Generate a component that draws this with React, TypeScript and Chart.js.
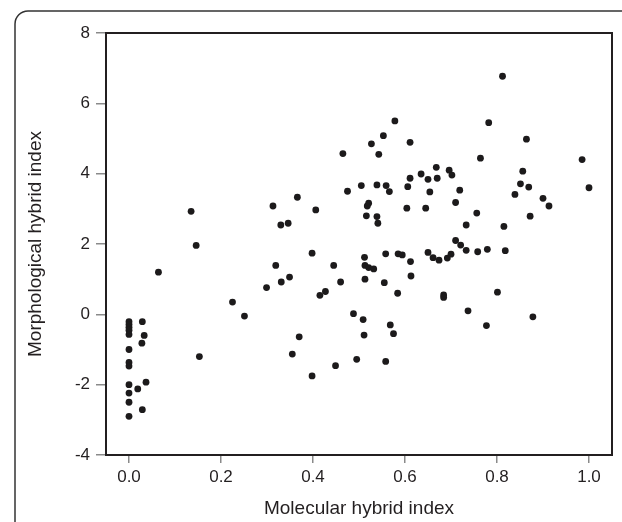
import React, { useEffect, useRef } from "react";
import { Chart, registerables } from "chart.js";

Chart.register(...registerables);

const molecularIndex: number[] = [
  0, 0, 0, 0, 0, 0, 0, 0, 0, 0, 0, 0,
  0.029, 0.033, 0.028, 0.037, 0.019, 0.029, 0.064, 0.135, 0.146, 0.153,
  0.225, 0.251, 0.299, 0.313, 0.319, 0.33, 0.331, 0.346, 0.349, 0.366,
  0.355, 0.37, 0.398, 0.406, 0.398, 0.415, 0.427, 0.445, 0.449, 0.46,
  0.465, 0.475, 0.488, 0.495, 0.505, 0.509, 0.511, 0.512, 0.513, 0.513,
  0.516, 0.518, 0.521, 0.521, 0.527, 0.532, 0.539, 0.539, 0.541, 0.543,
  0.553, 0.555, 0.558, 0.558, 0.559, 0.566, 0.568, 0.575, 0.578, 0.584,
  0.585, 0.594, 0.604, 0.606, 0.611, 0.611, 0.612, 0.613, 0.635, 0.645,
  0.65, 0.65, 0.654, 0.661, 0.668, 0.67, 0.674, 0.684, 0.684, 0.692,
  0.696, 0.7, 0.702, 0.71, 0.71, 0.719, 0.721, 0.733, 0.733, 0.737,
  0.756, 0.758, 0.764, 0.777, 0.779, 0.782, 0.801, 0.812, 0.815, 0.818,
  0.839, 0.851, 0.856, 0.864, 0.869, 0.872, 0.878, 0.9, 0.913, 0.985, 1.0,
];

const morphologicalIndex: number[] = [
  -0.21, -0.29, -0.37, -0.45, -0.57, -1.0, -1.37, -1.47, -2.0, -2.24, -2.5, -2.9,
  -0.21, -0.6, -0.82, -1.93, -2.12, -2.71, 1.2, 2.93, 1.96, -1.2,
  0.35, -0.05, 0.76, 3.08, 1.39, 2.54, 0.92, 2.59, 1.06, 3.33,
  -1.13, -0.64, 1.74, 2.97, -1.75, 0.54, 0.65, 1.39, -1.46, 0.92,
  4.57, 3.5, 0.02, -1.28, 3.66, -0.15, -0.59, 1.62, 1.39, 1.0,
  2.8, 3.08, 3.16, 1.33, 4.85, 1.29, 3.68, 2.78, 2.59, 4.55,
  5.08, 0.9, 1.72, -1.34, 3.66, 3.49, -0.3, -0.55, 5.5, 0.6,
  1.72, 1.69, 3.02, 3.63, 4.89, 3.87, 1.5, 1.09, 3.99, 3.02,
  3.84, 1.76, 3.48, 1.61, 4.18, 3.87, 1.54, 0.55, 0.48, 1.6,
  4.1, 1.71, 3.96, 3.18, 2.1, 3.53, 1.97, 2.54, 1.82, 0.1,
  2.88, 1.78, 4.44, -0.32, 1.85, 5.45, 0.63, 6.77, 2.5, 1.81,
  3.41, 3.71, 4.07, 4.98, 3.62, 2.79, -0.07, 3.3, 3.08, 4.4, 3.6,
];

const xTickValues: number[] = [0, 0.2, 0.4, 0.6, 0.8, 1.0];
const yTickValues: number[] = [-4, -2, 0, 2, 4, 6, 8];

const xAxisTitle = "Molecular hybrid index";
const yAxisTitle = "Morphological hybrid index";

const FONT = "'Liberation Sans', Arial, Helvetica, sans-serif";
const TEXT = "#231f20";

const framePlugin = {
  id: "framePlugin",
  beforeDraw(chart: any) {
    const ctx = chart.ctx;
    ctx.save();
    ctx.fillStyle = "#ffffff";
    ctx.fillRect(0, 0, chart.width, chart.height);
    ctx.strokeStyle = "#333333";
    ctx.lineWidth = 1.5;
    const x0 = 15, y0 = 11, r = 13;
    ctx.beginPath();
    ctx.moveTo(x0, chart.height + 5);
    ctx.lineTo(x0, y0 + r);
    ctx.arcTo(x0, y0, x0 + r, y0, r);
    ctx.lineTo(chart.width + 5, y0);
    ctx.stroke();
    ctx.restore();
  },
  afterDatasetsDraw(chart: any) {
    const { ctx, chartArea } = chart;
    ctx.save();
    ctx.strokeStyle = "#231f20";
    ctx.lineWidth = 2;
    ctx.strokeRect(chartArea.left, chartArea.top, chartArea.right - chartArea.left, chartArea.bottom - chartArea.top);
    ctx.restore();
  },
};

export default function App() {
  const ref = useRef<HTMLCanvasElement | null>(null);

  useEffect(() => {
    if (!ref.current) return;
    const points = molecularIndex.map((x, i) => ({ x, y: morphologicalIndex[i] }));
    const chart = new Chart(ref.current, {
      type: "scatter",
      data: {
        datasets: [
          {
            data: points,
            backgroundColor: "#1c1a1b",
            borderColor: "#1c1a1b",
            borderWidth: 0,
            pointRadius: 3.4,
            pointHoverRadius: 3.4,
          },
        ],
      },
      options: {
        animation: false,
        responsive: false,
        devicePixelRatio: 1,
        layout: { padding: { left: 0, right: 10, top: 33, bottom: 0 } },
        plugins: {
          legend: { display: false },
          tooltip: { enabled: false },
        },
        scales: {
          x: {
            type: "linear",
            min: -0.05,
            max: 1.05,
            afterBuildTicks: (scale: any) => {
              scale.ticks = xTickValues.map((v) => ({ value: v }));
            },
            afterFit: (scale: any) => {
              scale.height = 67;
            },
            grid: {
              display: true,
              drawOnChartArea: false,
              drawTicks: true,
              tickLength: 8,
              color: "#8a8a8a",
              lineWidth: 1.5,
            },
            border: { display: false },
            ticks: {
              color: TEXT,
              font: { family: FONT, size: 17 },
              padding: 4,
              callback: (v: any) => Number(v).toFixed(1),
            },
            title: {
              display: true,
              text: xAxisTitle,
              color: TEXT,
              font: { family: FONT, size: 19 },
              padding: { top: 0, bottom: 2 },
            },
          },
          y: {
            type: "linear",
            min: -4,
            max: 8,
            afterBuildTicks: (scale: any) => {
              scale.ticks = yTickValues.map((v) => ({ value: v }));
            },
            afterFit: (scale: any) => {
              scale.width = 106;
            },
            grid: {
              display: true,
              drawOnChartArea: false,
              drawTicks: true,
              tickLength: 10,
              color: "#8a8a8a",
              lineWidth: 1.5,
            },
            border: { display: false },
            ticks: {
              color: TEXT,
              font: { family: FONT, size: 17 },
              padding: 6,
              callback: (v: any) => String(v),
            },
            title: {
              display: true,
              text: yAxisTitle,
              color: TEXT,
              font: { family: FONT, size: 19 },
              padding: { top: 24, bottom: 0 },
            },
          },
        },
      },
      plugins: [framePlugin],
    });
    return () => chart.destroy();
  }, []);

  return (
    <canvas
      ref={ref}
      width={622}
      height={522}
      style={{ position: "fixed", left: 0, top: 0, width: 622, height: 522 }}
    />
  );
}
